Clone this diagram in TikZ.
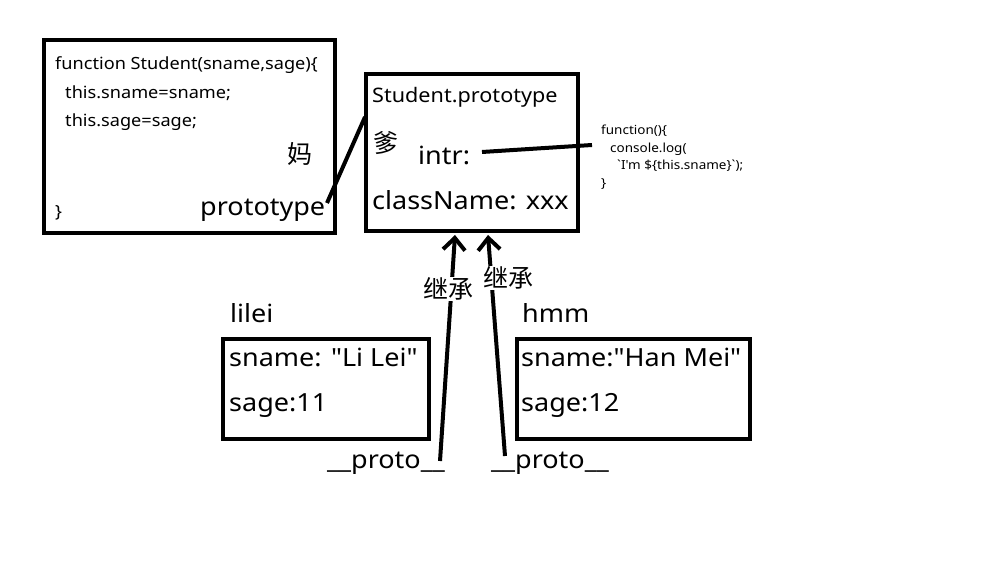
\documentclass[tikz,border=0pt]{standalone}
\usepackage{fontspec}
\setmainfont{Noto Sans}[Ligatures=TeXOff,FakeStretch=1.08]
\newfontfamily\cjk{Noto Sans CJK SC}
\usetikzlibrary{arrows.meta}
\begin{document}
\begin{tikzpicture}[x=1pt,y=-1pt,
  box/.style={draw,line width=4pt,inner sep=0pt},
  txt/.style={anchor=base west,inner sep=0pt,font=\fontsize{25}{25}\selectfont},
  code/.style={anchor=base west,inner sep=0pt,font=\fontsize{16.8}{16.8}\selectfont},
  tiny/.style={anchor=base west,inner sep=0pt,font=\fontsize{12.5}{12.5}\selectfont},
  han/.style={anchor=base west,inner sep=0pt,font=\cjk\fontsize{25}{25}\selectfont},
  link/.style={line width=4pt},
  inh/.style={line width=4pt,-{Straight Barb[length=12pt,width=22pt,line width=4pt]}},
  lbl/.style={fill=white,inner sep=1pt,font=\cjk\fontsize{25}{25}\selectfont}]
\useasboundingbox (0,0) rectangle (1008,577);
\fill[white] (0,0) rectangle (1008,577);
% boxes
\node[box,minimum width=291pt,minimum height=193pt] (b1) at (189.5,136.5) {};
\node[box,minimum width=212pt,minimum height=157pt] (b2) at (472,153) {};
\node[box,minimum width=206pt,minimum height=100pt] (b3) at (326,389) {};
\node[box,minimum width=233pt,minimum height=100pt] (b4) at (633.5,389) {};
% box1 text
\node[code] (f1) at (55,70) {function Student(sname,sage)\{};
\node[code] (f2) at (65,99) {this.sname=sname;};
\node[code] (f3) at (65,127) {this.sage=sage;};
\node[han] (ma) at (287,164) {妈};
\node[txt] (ptype) at (200,215) {prototype};
\node[code] (f4) at (55,218) {\}};
% box2 text
\node[code,font=\fontsize{20}{20}\selectfont] (sp) at (372,103) {Student.prototype};
\node[han] (die) at (373,153) {爹};
\node[txt] (intr) at (418,165) {intr:};
\node[txt] (cn) at (372,210) {className: xxx};
% function text
\node[tiny] (g1) at (601,135) {function()\{};
\node[tiny] (g2) at (610,153) {console.log(};
\node[tiny] (g3) at (617,170) {`I'm \$\{this.sname\}`);};
\node[tiny] (g4) at (601,188) {\}};
% instances
\node[txt] (lilei) at (230,322) {lilei};
\node[txt] (hmm) at (522,322) {hmm};
\node[txt] (s3a) at (229,366) {sname: "Li Lei"};
\node[txt] (s3b) at (229,411) {sage:11};
\node[txt] (s4a) at (521,366) {sname:"Han Mei"};
\node[txt] (s4b) at (521,411) {sage:12};
\node[txt] (pl) at (327,468) {\_\_proto\_\_};
\node[txt] (pr) at (491,468) {\_\_proto\_\_};
% connectors
\coordinate (pa) at (327,203);
\coordinate (pb) at (365,117);
\draw[link] (pa) -- (pb);
\coordinate (ia) at (482,152);
\coordinate (ib) at (592,145);
\draw[link] (ia) -- (ib);
\coordinate (la) at (440,461);
\coordinate (lb) at (455,235);
\draw[inh] (la) -- (lb);
\coordinate (ra) at (505,456);
\coordinate (rb) at (488,235);
\draw[inh] (ra) -- (rb);
\node[lbl] (jl) at (448,289) {继承};
\node[lbl] (jr) at (508,278) {继承};
\end{tikzpicture}
\end{document}
